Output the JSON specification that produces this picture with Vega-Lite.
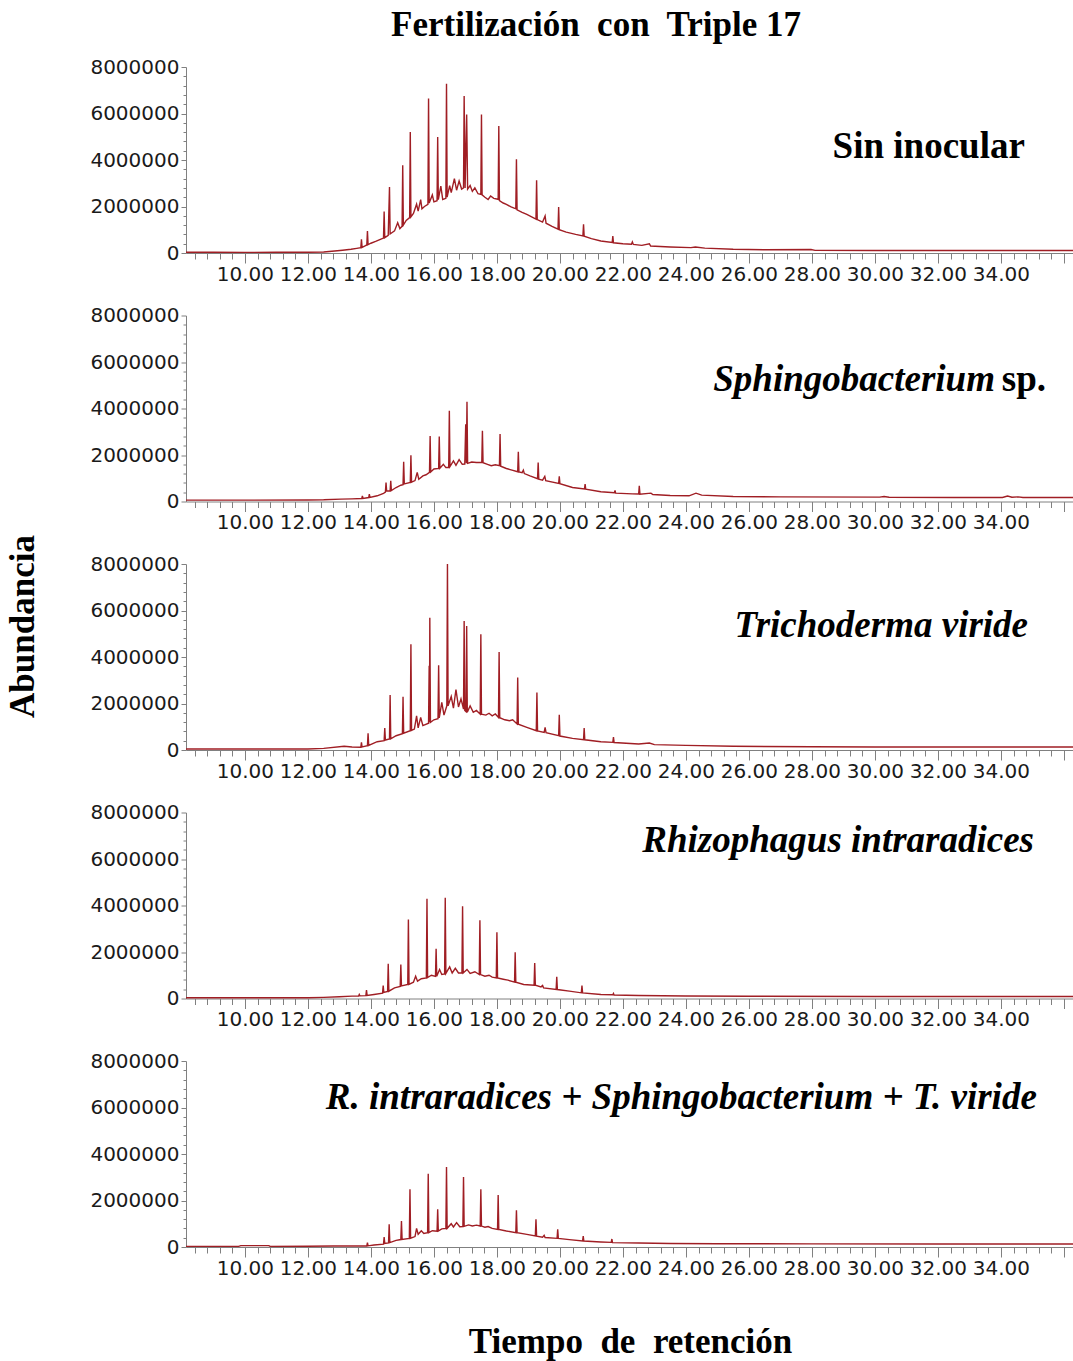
{
  "$schema": "https://vega.github.io/schema/vega-lite/v6.json",
  "background": "white",
  "padding": {"left": 5, "top": 8, "right": 0, "bottom": 5},
  "title": {
    "text": "Fertilización\u00a0 con\u00a0 Triple 17",
    "font": "Liberation Serif",
    "fontSize": 35,
    "fontWeight": "bold",
    "color": "#000000",
    "anchor": "middle",
    "frame": "group",
    "offset": 14,
    "dx": -34
  },
  "config": {
    "view": {"stroke": null},
    "axis": {
      "grid": false,
      "domainColor": "#808080",
      "tickColor": "#808080",
      "labelColor": "#1a1a1a",
      "labelFont": "DejaVu Sans",
      "labelFontSize": 20,
      "labelOverlap": false,
      "labelBound": false,
      "labelFlush": false,
      "tickCount": 100
    },
    "line": {"color": "#a01e24", "strokeWidth": 1.4, "clip": true},
    "text": {"font": "Liberation Serif", "fontSize": 37, "fontWeight": "bold", "color": "#000000", "align": "right", "baseline": "alphabetic"}
  },
  "datasets": {
    "p1": [
      {"t": 8.13, "v": 30000}, {"t": 9.0, "v": 30000}, {"t": 10.0, "v": 25000}, {"t": 11.0, "v": 30000}, {"t": 12.0, "v": 30000},
      {"t": 12.5, "v": 45000}, {"t": 12.85, "v": 86000}, {"t": 13.1, "v": 120000}, {"t": 13.37, "v": 160000}, {"t": 13.55, "v": 200000},
      {"t": 13.68, "v": 230000}, {"t": 13.7, "v": 590000}, {"t": 13.72, "v": 240000}, {"t": 13.8, "v": 300000}, {"t": 13.87, "v": 344000},
      {"t": 13.89, "v": 946000}, {"t": 13.91, "v": 360000}, {"t": 14.0, "v": 420000}, {"t": 14.15, "v": 500000}, {"t": 14.3, "v": 590000},
      {"t": 14.4, "v": 640000}, {"t": 14.42, "v": 1780000}, {"t": 14.44, "v": 660000}, {"t": 14.55, "v": 760000}, {"t": 14.59, "v": 2840000},
      {"t": 14.61, "v": 817000}, {"t": 14.75, "v": 950000}, {"t": 14.85, "v": 1300000}, {"t": 14.92, "v": 1050000}, {"t": 14.99, "v": 1150000},
      {"t": 15.01, "v": 3770000}, {"t": 15.03, "v": 1200000}, {"t": 15.12, "v": 1400000}, {"t": 15.23, "v": 1520000}, {"t": 15.25, "v": 5200000},
      {"t": 15.27, "v": 1550000}, {"t": 15.35, "v": 1700000}, {"t": 15.45, "v": 2100000}, {"t": 15.5, "v": 1800000}, {"t": 15.58, "v": 2300000},
      {"t": 15.62, "v": 1900000}, {"t": 15.7, "v": 2000000}, {"t": 15.81, "v": 2090000}, {"t": 15.83, "v": 6650000}, {"t": 15.85, "v": 2150000},
      {"t": 15.95, "v": 2500000}, {"t": 16.0, "v": 2200000}, {"t": 16.1, "v": 2250000}, {"t": 16.12, "v": 4990000}, {"t": 16.14, "v": 2300000},
      {"t": 16.22, "v": 2880000}, {"t": 16.28, "v": 2300000}, {"t": 16.38, "v": 2350000}, {"t": 16.4, "v": 7280000}, {"t": 16.42, "v": 2400000},
      {"t": 16.5, "v": 2900000}, {"t": 16.55, "v": 2600000}, {"t": 16.65, "v": 3200000}, {"t": 16.72, "v": 2700000}, {"t": 16.8, "v": 3100000},
      {"t": 16.88, "v": 2750000}, {"t": 16.94, "v": 2800000}, {"t": 16.96, "v": 6750000}, {"t": 16.99, "v": 2800000}, {"t": 17.04, "v": 5960000},
      {"t": 17.07, "v": 2750000}, {"t": 17.15, "v": 2900000}, {"t": 17.22, "v": 2650000}, {"t": 17.3, "v": 2800000}, {"t": 17.4, "v": 2550000},
      {"t": 17.49, "v": 2520000}, {"t": 17.51, "v": 5960000}, {"t": 17.53, "v": 2500000}, {"t": 17.62, "v": 2400000}, {"t": 17.72, "v": 2300000},
      {"t": 17.8, "v": 2450000}, {"t": 17.9, "v": 2350000}, {"t": 18.04, "v": 2310000}, {"t": 18.06, "v": 5460000}, {"t": 18.08, "v": 2250000},
      {"t": 18.2, "v": 2150000}, {"t": 18.3, "v": 2090000}, {"t": 18.45, "v": 1980000}, {"t": 18.6, "v": 1900000}, {"t": 18.62, "v": 4030000},
      {"t": 18.64, "v": 1860000}, {"t": 18.8, "v": 1750000}, {"t": 18.95, "v": 1660000}, {"t": 19.24, "v": 1460000}, {"t": 19.26, "v": 3130000},
      {"t": 19.28, "v": 1440000}, {"t": 19.45, "v": 1330000}, {"t": 19.53, "v": 1590000}, {"t": 19.56, "v": 1280000}, {"t": 19.75, "v": 1150000},
      {"t": 19.94, "v": 1030000}, {"t": 19.96, "v": 1980000}, {"t": 19.98, "v": 1000000}, {"t": 20.2, "v": 900000}, {"t": 20.5, "v": 800000},
      {"t": 20.73, "v": 735000}, {"t": 20.75, "v": 1230000}, {"t": 20.77, "v": 720000}, {"t": 21.0, "v": 620000}, {"t": 21.3, "v": 516000},
      {"t": 21.66, "v": 450000}, {"t": 21.68, "v": 731000}, {"t": 21.7, "v": 440000}, {"t": 22.0, "v": 400000}, {"t": 22.27, "v": 380000},
      {"t": 22.3, "v": 480000}, {"t": 22.33, "v": 370000}, {"t": 22.6, "v": 330000}, {"t": 22.84, "v": 400000}, {"t": 22.88, "v": 300000},
      {"t": 23.5, "v": 260000}, {"t": 24.16, "v": 230000}, {"t": 24.3, "v": 260000}, {"t": 24.6, "v": 210000}, {"t": 25.5, "v": 160000},
      {"t": 26.5, "v": 140000}, {"t": 27.97, "v": 150000}, {"t": 28.1, "v": 115000}, {"t": 30.0, "v": 110000}, {"t": 32.0, "v": 110000},
      {"t": 34.0, "v": 110000}, {"t": 36.32, "v": 110000}
    ],
    "p2": [
      {"t": 8.13, "v": 60000}, {"t": 10.0, "v": 60000}, {"t": 12.0, "v": 65000}, {"t": 12.5, "v": 73000}, {"t": 13.05, "v": 100000},
      {"t": 13.4, "v": 115000}, {"t": 13.71, "v": 129000}, {"t": 13.73, "v": 245000}, {"t": 13.75, "v": 135000}, {"t": 13.93, "v": 170000},
      {"t": 13.95, "v": 315000}, {"t": 13.97, "v": 180000}, {"t": 14.2, "v": 245000}, {"t": 14.4, "v": 350000}, {"t": 14.46, "v": 400000},
      {"t": 14.48, "v": 817000}, {"t": 14.5, "v": 450000}, {"t": 14.61, "v": 460000}, {"t": 14.63, "v": 890000}, {"t": 14.65, "v": 470000},
      {"t": 14.8, "v": 602000}, {"t": 14.95, "v": 700000}, {"t": 15.02, "v": 720000}, {"t": 15.04, "v": 1710000}, {"t": 15.06, "v": 760000},
      {"t": 15.25, "v": 817000}, {"t": 15.27, "v": 1990000}, {"t": 15.29, "v": 830000}, {"t": 15.4, "v": 900000}, {"t": 15.47, "v": 1250000},
      {"t": 15.52, "v": 960000}, {"t": 15.65, "v": 1100000}, {"t": 15.75, "v": 1150000}, {"t": 15.86, "v": 1250000}, {"t": 15.88, "v": 2820000},
      {"t": 15.9, "v": 1270000}, {"t": 16.0, "v": 1400000}, {"t": 16.15, "v": 1420000}, {"t": 16.17, "v": 2800000}, {"t": 16.19, "v": 1430000},
      {"t": 16.3, "v": 1600000}, {"t": 16.38, "v": 1460000}, {"t": 16.47, "v": 1470000}, {"t": 16.49, "v": 3900000}, {"t": 16.51, "v": 1500000},
      {"t": 16.62, "v": 1750000}, {"t": 16.7, "v": 1560000}, {"t": 16.8, "v": 1800000}, {"t": 16.9, "v": 1600000}, {"t": 16.98, "v": 1610000},
      {"t": 17.01, "v": 3320000}, {"t": 17.03, "v": 1650000}, {"t": 17.05, "v": 4290000}, {"t": 17.07, "v": 1640000}, {"t": 17.2, "v": 1700000},
      {"t": 17.35, "v": 1680000}, {"t": 17.52, "v": 1680000}, {"t": 17.54, "v": 3040000}, {"t": 17.56, "v": 1670000}, {"t": 17.7, "v": 1600000},
      {"t": 17.82, "v": 1540000}, {"t": 17.95, "v": 1580000}, {"t": 18.08, "v": 1540000}, {"t": 18.1, "v": 2900000}, {"t": 18.12, "v": 1520000},
      {"t": 18.3, "v": 1420000}, {"t": 18.45, "v": 1360000}, {"t": 18.66, "v": 1280000}, {"t": 18.68, "v": 2140000}, {"t": 18.7, "v": 1270000},
      {"t": 18.8, "v": 1240000}, {"t": 18.84, "v": 1350000}, {"t": 18.87, "v": 1200000}, {"t": 19.05, "v": 1100000}, {"t": 19.29, "v": 980000},
      {"t": 19.31, "v": 1680000}, {"t": 19.33, "v": 960000}, {"t": 19.45, "v": 920000}, {"t": 19.52, "v": 1080000}, {"t": 19.55, "v": 900000},
      {"t": 19.96, "v": 780000}, {"t": 19.98, "v": 1080000}, {"t": 20.0, "v": 770000}, {"t": 20.4, "v": 602000}, {"t": 20.78, "v": 540000},
      {"t": 20.8, "v": 745000}, {"t": 20.82, "v": 530000}, {"t": 21.3, "v": 417000}, {"t": 21.73, "v": 380000}, {"t": 21.75, "v": 480000},
      {"t": 21.77, "v": 360000}, {"t": 22.3, "v": 330000}, {"t": 22.5, "v": 320000}, {"t": 22.52, "v": 674000}, {"t": 22.54, "v": 315000},
      {"t": 22.89, "v": 358000}, {"t": 22.95, "v": 300000}, {"t": 23.5, "v": 260000}, {"t": 24.1, "v": 245000}, {"t": 24.32, "v": 358000},
      {"t": 24.5, "v": 272000}, {"t": 25.5, "v": 215000}, {"t": 27.0, "v": 200000}, {"t": 30.15, "v": 190000}, {"t": 30.29, "v": 215000},
      {"t": 30.45, "v": 185000}, {"t": 32.5, "v": 172000}, {"t": 34.05, "v": 175000}, {"t": 34.21, "v": 235000}, {"t": 34.35, "v": 185000},
      {"t": 34.55, "v": 200000}, {"t": 34.7, "v": 175000}, {"t": 36.32, "v": 172000}
    ],
    "p3": [
      {"t": 8.13, "v": 40000}, {"t": 10.0, "v": 40000}, {"t": 12.0, "v": 43000}, {"t": 12.5, "v": 70000}, {"t": 13.15, "v": 159000},
      {"t": 13.4, "v": 130000}, {"t": 13.68, "v": 116000}, {"t": 13.7, "v": 330000}, {"t": 13.72, "v": 130000}, {"t": 13.89, "v": 184000},
      {"t": 13.91, "v": 716000}, {"t": 13.93, "v": 200000}, {"t": 14.2, "v": 356000}, {"t": 14.42, "v": 400000}, {"t": 14.44, "v": 944000},
      {"t": 14.46, "v": 430000}, {"t": 14.59, "v": 472000}, {"t": 14.61, "v": 2370000}, {"t": 14.63, "v": 480000}, {"t": 14.8, "v": 613000},
      {"t": 15.0, "v": 700000}, {"t": 15.02, "v": 2290000}, {"t": 15.04, "v": 720000}, {"t": 15.25, "v": 828000}, {"t": 15.27, "v": 4550000},
      {"t": 15.29, "v": 840000}, {"t": 15.38, "v": 901000}, {"t": 15.45, "v": 1470000}, {"t": 15.5, "v": 950000}, {"t": 15.58, "v": 1400000},
      {"t": 15.65, "v": 1050000}, {"t": 15.83, "v": 1150000}, {"t": 15.85, "v": 3620000}, {"t": 15.86, "v": 1190000}, {"t": 15.87, "v": 5690000},
      {"t": 15.89, "v": 1190000}, {"t": 16.0, "v": 1300000}, {"t": 16.13, "v": 1350000}, {"t": 16.15, "v": 3650000}, {"t": 16.17, "v": 1380000},
      {"t": 16.25, "v": 2050000}, {"t": 16.32, "v": 1500000}, {"t": 16.41, "v": 1900000}, {"t": 16.43, "v": 8000000}, {"t": 16.45, "v": 1900000},
      {"t": 16.55, "v": 2300000}, {"t": 16.62, "v": 1800000}, {"t": 16.7, "v": 2600000}, {"t": 16.78, "v": 1850000}, {"t": 16.86, "v": 2200000},
      {"t": 16.94, "v": 1760000}, {"t": 16.96, "v": 5550000}, {"t": 16.98, "v": 1700000}, {"t": 17.02, "v": 1650000}, {"t": 17.04, "v": 5330000},
      {"t": 17.06, "v": 1620000}, {"t": 17.15, "v": 1900000}, {"t": 17.25, "v": 1620000}, {"t": 17.35, "v": 1700000}, {"t": 17.47, "v": 1540000},
      {"t": 17.49, "v": 4980000}, {"t": 17.51, "v": 1540000}, {"t": 17.65, "v": 1500000}, {"t": 17.75, "v": 1580000}, {"t": 17.85, "v": 1470000},
      {"t": 17.95, "v": 1550000}, {"t": 18.05, "v": 1400000}, {"t": 18.07, "v": 4220000}, {"t": 18.09, "v": 1390000}, {"t": 18.25, "v": 1300000},
      {"t": 18.4, "v": 1260000}, {"t": 18.5, "v": 1300000}, {"t": 18.64, "v": 1120000}, {"t": 18.66, "v": 3120000}, {"t": 18.68, "v": 1110000},
      {"t": 18.95, "v": 974000}, {"t": 19.25, "v": 830000}, {"t": 19.27, "v": 2470000}, {"t": 19.29, "v": 820000}, {"t": 19.5, "v": 760000},
      {"t": 19.53, "v": 974000}, {"t": 19.56, "v": 750000}, {"t": 19.96, "v": 614000}, {"t": 19.98, "v": 1510000}, {"t": 20.0, "v": 600000},
      {"t": 20.4, "v": 502000}, {"t": 20.75, "v": 442000}, {"t": 20.77, "v": 944000}, {"t": 20.79, "v": 440000}, {"t": 21.3, "v": 356000},
      {"t": 21.68, "v": 330000}, {"t": 21.7, "v": 560000}, {"t": 21.72, "v": 320000}, {"t": 22.5, "v": 260000}, {"t": 22.84, "v": 300000},
      {"t": 23.0, "v": 230000}, {"t": 24.0, "v": 200000}, {"t": 25.5, "v": 160000}, {"t": 28.0, "v": 140000}, {"t": 30.0, "v": 130000},
      {"t": 33.0, "v": 130000}, {"t": 36.32, "v": 130000}
    ],
    "p4": [
      {"t": 8.13, "v": 30000}, {"t": 10.0, "v": 30000}, {"t": 12.0, "v": 30000}, {"t": 12.5, "v": 50000}, {"t": 13.0, "v": 73000},
      {"t": 13.4, "v": 100000}, {"t": 13.61, "v": 110000}, {"t": 13.63, "v": 172000}, {"t": 13.65, "v": 115000}, {"t": 13.84, "v": 125000},
      {"t": 13.86, "v": 357000}, {"t": 13.88, "v": 129000}, {"t": 14.1, "v": 172000}, {"t": 14.37, "v": 230000}, {"t": 14.39, "v": 559000},
      {"t": 14.41, "v": 260000}, {"t": 14.53, "v": 300000}, {"t": 14.55, "v": 1490000}, {"t": 14.57, "v": 315000}, {"t": 14.75, "v": 459000},
      {"t": 14.93, "v": 520000}, {"t": 14.95, "v": 1460000}, {"t": 14.97, "v": 540000}, {"t": 15.17, "v": 602000}, {"t": 15.19, "v": 3400000},
      {"t": 15.21, "v": 610000}, {"t": 15.35, "v": 700000}, {"t": 15.42, "v": 960000}, {"t": 15.48, "v": 745000}, {"t": 15.6, "v": 850000},
      {"t": 15.76, "v": 889000}, {"t": 15.78, "v": 4290000}, {"t": 15.8, "v": 900000}, {"t": 15.92, "v": 1000000}, {"t": 16.05, "v": 950000},
      {"t": 16.07, "v": 2140000}, {"t": 16.09, "v": 960000}, {"t": 16.18, "v": 1250000}, {"t": 16.25, "v": 1030000}, {"t": 16.34, "v": 1060000},
      {"t": 16.36, "v": 4330000}, {"t": 16.38, "v": 1080000}, {"t": 16.5, "v": 1360000}, {"t": 16.58, "v": 1100000}, {"t": 16.68, "v": 1300000},
      {"t": 16.78, "v": 1100000}, {"t": 16.89, "v": 1100000}, {"t": 16.91, "v": 3970000}, {"t": 16.93, "v": 1100000}, {"t": 17.05, "v": 1250000},
      {"t": 17.15, "v": 1080000}, {"t": 17.3, "v": 1150000}, {"t": 17.44, "v": 1030000}, {"t": 17.46, "v": 3370000}, {"t": 17.48, "v": 1030000},
      {"t": 17.62, "v": 960000}, {"t": 17.75, "v": 1000000}, {"t": 17.85, "v": 920000}, {"t": 17.98, "v": 889000}, {"t": 18.0, "v": 2850000},
      {"t": 18.02, "v": 880000}, {"t": 18.2, "v": 830000}, {"t": 18.35, "v": 789000}, {"t": 18.56, "v": 703000}, {"t": 18.58, "v": 1990000},
      {"t": 18.6, "v": 700000}, {"t": 18.85, "v": 602000}, {"t": 19.18, "v": 574000}, {"t": 19.2, "v": 1530000}, {"t": 19.22, "v": 570000},
      {"t": 19.4, "v": 500000}, {"t": 19.45, "v": 560000}, {"t": 19.48, "v": 459000}, {"t": 19.88, "v": 387000}, {"t": 19.9, "v": 932000},
      {"t": 19.92, "v": 385000}, {"t": 20.3, "v": 315000}, {"t": 20.68, "v": 244000}, {"t": 20.7, "v": 559000}, {"t": 20.72, "v": 244000},
      {"t": 21.3, "v": 172000}, {"t": 21.68, "v": 160000}, {"t": 21.7, "v": 215000}, {"t": 21.72, "v": 150000}, {"t": 22.5, "v": 130000},
      {"t": 24.0, "v": 110000}, {"t": 26.0, "v": 95000}, {"t": 30.0, "v": 86000}, {"t": 36.32, "v": 86000}
    ],
    "p5": [
      {"t": 8.13, "v": 25000}, {"t": 9.8, "v": 25000}, {"t": 9.87, "v": 60000}, {"t": 10.5, "v": 60000}, {"t": 10.76, "v": 60000},
      {"t": 10.8, "v": 25000}, {"t": 12.0, "v": 30000}, {"t": 12.8, "v": 40000}, {"t": 13.5, "v": 45000}, {"t": 13.87, "v": 43000},
      {"t": 13.89, "v": 185000}, {"t": 13.91, "v": 50000}, {"t": 14.1, "v": 86000}, {"t": 14.4, "v": 120000}, {"t": 14.42, "v": 430000},
      {"t": 14.44, "v": 150000}, {"t": 14.56, "v": 180000}, {"t": 14.58, "v": 975000}, {"t": 14.6, "v": 190000}, {"t": 14.8, "v": 287000},
      {"t": 14.95, "v": 320000}, {"t": 14.97, "v": 1120000}, {"t": 14.99, "v": 330000}, {"t": 15.22, "v": 373000}, {"t": 15.24, "v": 2480000},
      {"t": 15.26, "v": 380000}, {"t": 15.4, "v": 450000}, {"t": 15.45, "v": 803000}, {"t": 15.5, "v": 545000}, {"t": 15.6, "v": 700000},
      {"t": 15.68, "v": 580000}, {"t": 15.8, "v": 617000}, {"t": 15.82, "v": 3150000}, {"t": 15.84, "v": 620000}, {"t": 15.95, "v": 700000},
      {"t": 16.1, "v": 680000}, {"t": 16.12, "v": 1620000}, {"t": 16.14, "v": 688000}, {"t": 16.25, "v": 780000}, {"t": 16.38, "v": 800000},
      {"t": 16.4, "v": 3440000}, {"t": 16.42, "v": 803000}, {"t": 16.55, "v": 1000000}, {"t": 16.62, "v": 860000}, {"t": 16.72, "v": 1050000},
      {"t": 16.82, "v": 870000}, {"t": 16.92, "v": 880000}, {"t": 16.94, "v": 3010000}, {"t": 16.96, "v": 890000}, {"t": 17.1, "v": 950000},
      {"t": 17.22, "v": 903000}, {"t": 17.35, "v": 940000}, {"t": 17.47, "v": 903000}, {"t": 17.49, "v": 2480000}, {"t": 17.51, "v": 900000},
      {"t": 17.62, "v": 850000}, {"t": 17.72, "v": 880000}, {"t": 17.85, "v": 803000}, {"t": 18.02, "v": 760000}, {"t": 18.04, "v": 2240000},
      {"t": 18.06, "v": 755000}, {"t": 18.3, "v": 688000}, {"t": 18.6, "v": 617000}, {"t": 18.62, "v": 1580000}, {"t": 18.64, "v": 615000},
      {"t": 18.95, "v": 545000}, {"t": 19.22, "v": 473000}, {"t": 19.24, "v": 1190000}, {"t": 19.26, "v": 470000}, {"t": 19.45, "v": 420000},
      {"t": 19.5, "v": 500000}, {"t": 19.53, "v": 410000}, {"t": 19.91, "v": 373000}, {"t": 19.93, "v": 760000}, {"t": 19.95, "v": 370000},
      {"t": 20.3, "v": 315000}, {"t": 20.72, "v": 258000}, {"t": 20.74, "v": 473000}, {"t": 20.76, "v": 255000}, {"t": 21.3, "v": 215000},
      {"t": 21.63, "v": 200000}, {"t": 21.65, "v": 344000}, {"t": 21.67, "v": 190000}, {"t": 22.5, "v": 170000}, {"t": 23.5, "v": 150000},
      {"t": 25.0, "v": 140000}, {"t": 28.0, "v": 135000}, {"t": 32.0, "v": 130000}, {"t": 36.32, "v": 130000}
    ]
  },
  "bounds": "flush",
  "spacing": 62.5,
  "vconcat": [
    {
      "width": 888,
      "height": 186,
      "layer": [
        {
          "data": {"name": "p1"},
          "mark": {"type": "line"},
          "encoding": {
            "x": {"field": "t", "type": "quantitative", "scale": {"domain": [8.13, 36.32], "nice": false, "zero": false},
              "axis": {"title": null, "labelPadding": 1,
                "values": [8.4, 8.8, 9.2, 9.6, 10, 10.4, 10.8, 11.2, 11.6, 12, 12.4, 12.8, 13.2, 13.6, 14, 14.4, 14.8, 15.2, 15.6, 16, 16.4, 16.8, 17.2, 17.6, 18, 18.4, 18.8, 19.2, 19.6, 20, 20.4, 20.8, 21.2, 21.6, 22, 22.4, 22.8, 23.2, 23.6, 24, 24.4, 24.8, 25.2, 25.6, 26, 26.4, 26.8, 27.2, 27.6, 28, 28.4, 28.8, 29.2, 29.6, 30, 30.4, 30.8, 31.2, 31.6, 32, 32.4, 32.8, 33.2, 33.6, 34, 34.4, 34.8, 35.2, 35.6, 36],
                "labelExpr": "datum.value < 35 && abs(datum.value - 2 * round(datum.value / 2)) < 0.001 ? format(datum.value, '.2f') : ''",
                "tickSize": {"condition": {"test": "abs(datum.value - 2 * round(datum.value / 2)) < 0.001", "value": 10}, "value": 6}}},
            "y": {"field": "v", "type": "quantitative", "scale": {"domain": [0, 8000000], "nice": false},
              "axis": {"title": null, "labelPadding": 2,
                "values": [0, 400000, 800000, 1200000, 1600000, 2000000, 2400000, 2800000, 3200000, 3600000, 4000000, 4400000, 4800000, 5200000, 5600000, 6000000, 6400000, 6800000, 7200000, 7600000, 8000000],
                "labelExpr": "datum.value % 2000000 == 0 ? format(datum.value, 'd') : ''",
                "tickSize": {"condition": {"test": "datum.value % 2000000 == 0", "value": 5}, "value": 3}}}
          }
        },
        {
          "data": {"values": [{"label": "Sin inocular"}]},
          "mark": {"type": "text"},
          "encoding": {"x": {"datum": 34.76}, "y": {"datum": 4100000}, "text": {"field": "label"}}
        }
      ]
    },
    {
      "width": 888,
      "height": 186,
      "layer": [
        {
          "data": {"name": "p2"},
          "mark": {"type": "line"},
          "encoding": {
            "x": {"field": "t", "type": "quantitative", "scale": {"domain": [8.13, 36.32], "nice": false, "zero": false},
              "axis": {"title": null, "labelPadding": 1,
                "values": [8.4, 8.8, 9.2, 9.6, 10, 10.4, 10.8, 11.2, 11.6, 12, 12.4, 12.8, 13.2, 13.6, 14, 14.4, 14.8, 15.2, 15.6, 16, 16.4, 16.8, 17.2, 17.6, 18, 18.4, 18.8, 19.2, 19.6, 20, 20.4, 20.8, 21.2, 21.6, 22, 22.4, 22.8, 23.2, 23.6, 24, 24.4, 24.8, 25.2, 25.6, 26, 26.4, 26.8, 27.2, 27.6, 28, 28.4, 28.8, 29.2, 29.6, 30, 30.4, 30.8, 31.2, 31.6, 32, 32.4, 32.8, 33.2, 33.6, 34, 34.4, 34.8, 35.2, 35.6, 36],
                "labelExpr": "datum.value < 35 && abs(datum.value - 2 * round(datum.value / 2)) < 0.001 ? format(datum.value, '.2f') : ''",
                "tickSize": {"condition": {"test": "abs(datum.value - 2 * round(datum.value / 2)) < 0.001", "value": 10}, "value": 6}}},
            "y": {"field": "v", "type": "quantitative", "scale": {"domain": [0, 8000000], "nice": false},
              "axis": {"title": null, "labelPadding": 2,
                "values": [0, 400000, 800000, 1200000, 1600000, 2000000, 2400000, 2800000, 3200000, 3600000, 4000000, 4400000, 4800000, 5200000, 5600000, 6000000, 6400000, 6800000, 7200000, 7600000, 8000000],
                "labelExpr": "datum.value % 2000000 == 0 ? format(datum.value, 'd') : ''",
                "tickSize": {"condition": {"test": "datum.value % 2000000 == 0", "value": 5}, "value": 3}}}
          }
        },
        {
          "data": {"values": [{"label": "Sphingobacterium"}]},
          "mark": {"type": "text", "fontStyle": "italic"},
          "encoding": {"x": {"datum": 33.81}, "y": {"datum": 4770000}, "text": {"field": "label"}}
        },
        {
          "data": {"values": [{"label": "sp."}]},
          "mark": {"type": "text"},
          "encoding": {"x": {"datum": 35.43}, "y": {"datum": 4770000}, "text": {"field": "label"}}
        }
      ]
    },
    {
      "width": 888,
      "height": 186,
      "layer": [
        {
          "data": {"name": "p3"},
          "mark": {"type": "line"},
          "encoding": {
            "x": {"field": "t", "type": "quantitative", "scale": {"domain": [8.13, 36.32], "nice": false, "zero": false},
              "axis": {"title": null, "labelPadding": 1,
                "values": [8.4, 8.8, 9.2, 9.6, 10, 10.4, 10.8, 11.2, 11.6, 12, 12.4, 12.8, 13.2, 13.6, 14, 14.4, 14.8, 15.2, 15.6, 16, 16.4, 16.8, 17.2, 17.6, 18, 18.4, 18.8, 19.2, 19.6, 20, 20.4, 20.8, 21.2, 21.6, 22, 22.4, 22.8, 23.2, 23.6, 24, 24.4, 24.8, 25.2, 25.6, 26, 26.4, 26.8, 27.2, 27.6, 28, 28.4, 28.8, 29.2, 29.6, 30, 30.4, 30.8, 31.2, 31.6, 32, 32.4, 32.8, 33.2, 33.6, 34, 34.4, 34.8, 35.2, 35.6, 36],
                "labelExpr": "datum.value < 35 && abs(datum.value - 2 * round(datum.value / 2)) < 0.001 ? format(datum.value, '.2f') : ''",
                "tickSize": {"condition": {"test": "abs(datum.value - 2 * round(datum.value / 2)) < 0.001", "value": 10}, "value": 6}}},
            "y": {"field": "v", "type": "quantitative", "scale": {"domain": [0, 8000000], "nice": false},
              "axis": {"labelPadding": 2,
                "title": "Abundancia", "titleFont": "Liberation Serif", "titleFontSize": 35, "titleFontWeight": "bold", "titleColor": "#000000",
                "titlePadding": 49, "titleY": 62,
                "values": [0, 400000, 800000, 1200000, 1600000, 2000000, 2400000, 2800000, 3200000, 3600000, 4000000, 4400000, 4800000, 5200000, 5600000, 6000000, 6400000, 6800000, 7200000, 7600000, 8000000],
                "labelExpr": "datum.value % 2000000 == 0 ? format(datum.value, 'd') : ''",
                "tickSize": {"condition": {"test": "datum.value % 2000000 == 0", "value": 5}, "value": 3}}}
          }
        },
        {
          "data": {"values": [{"label": "Trichoderma viride"}]},
          "mark": {"type": "text", "fontStyle": "italic"},
          "encoding": {"x": {"datum": 34.86}, "y": {"datum": 4850000}, "text": {"field": "label"}}
        }
      ]
    },
    {
      "width": 888,
      "height": 186,
      "layer": [
        {
          "data": {"name": "p4"},
          "mark": {"type": "line"},
          "encoding": {
            "x": {"field": "t", "type": "quantitative", "scale": {"domain": [8.13, 36.32], "nice": false, "zero": false},
              "axis": {"title": null, "labelPadding": 1,
                "values": [8.4, 8.8, 9.2, 9.6, 10, 10.4, 10.8, 11.2, 11.6, 12, 12.4, 12.8, 13.2, 13.6, 14, 14.4, 14.8, 15.2, 15.6, 16, 16.4, 16.8, 17.2, 17.6, 18, 18.4, 18.8, 19.2, 19.6, 20, 20.4, 20.8, 21.2, 21.6, 22, 22.4, 22.8, 23.2, 23.6, 24, 24.4, 24.8, 25.2, 25.6, 26, 26.4, 26.8, 27.2, 27.6, 28, 28.4, 28.8, 29.2, 29.6, 30, 30.4, 30.8, 31.2, 31.6, 32, 32.4, 32.8, 33.2, 33.6, 34, 34.4, 34.8, 35.2, 35.6, 36],
                "labelExpr": "datum.value < 35 && abs(datum.value - 2 * round(datum.value / 2)) < 0.001 ? format(datum.value, '.2f') : ''",
                "tickSize": {"condition": {"test": "abs(datum.value - 2 * round(datum.value / 2)) < 0.001", "value": 10}, "value": 6}}},
            "y": {"field": "v", "type": "quantitative", "scale": {"domain": [0, 8000000], "nice": false},
              "axis": {"title": null, "labelPadding": 2,
                "values": [0, 400000, 800000, 1200000, 1600000, 2000000, 2400000, 2800000, 3200000, 3600000, 4000000, 4400000, 4800000, 5200000, 5600000, 6000000, 6400000, 6800000, 7200000, 7600000, 8000000],
                "labelExpr": "datum.value % 2000000 == 0 ? format(datum.value, 'd') : ''",
                "tickSize": {"condition": {"test": "datum.value % 2000000 == 0", "value": 5}, "value": 3}}}
          }
        },
        {
          "data": {"values": [{"label": "Rhizophagus intraradices"}]},
          "mark": {"type": "text", "fontStyle": "italic"},
          "encoding": {"x": {"datum": 35.05}, "y": {"datum": 6280000}, "text": {"field": "label"}}
        }
      ]
    },
    {
      "width": 888,
      "height": 186,
      "layer": [
        {
          "data": {"name": "p5"},
          "mark": {"type": "line"},
          "encoding": {
            "x": {"field": "t", "type": "quantitative", "scale": {"domain": [8.13, 36.32], "nice": false, "zero": false},
              "axis": {"labelPadding": 1,
                "title": "Tiempo\u00a0 de\u00a0 retención", "titleFont": "Liberation Serif", "titleFontSize": 35, "titleFontWeight": "bold", "titleColor": "#000000",
                "titlePadding": 46,
                "values": [8.4, 8.8, 9.2, 9.6, 10, 10.4, 10.8, 11.2, 11.6, 12, 12.4, 12.8, 13.2, 13.6, 14, 14.4, 14.8, 15.2, 15.6, 16, 16.4, 16.8, 17.2, 17.6, 18, 18.4, 18.8, 19.2, 19.6, 20, 20.4, 20.8, 21.2, 21.6, 22, 22.4, 22.8, 23.2, 23.6, 24, 24.4, 24.8, 25.2, 25.6, 26, 26.4, 26.8, 27.2, 27.6, 28, 28.4, 28.8, 29.2, 29.6, 30, 30.4, 30.8, 31.2, 31.6, 32, 32.4, 32.8, 33.2, 33.6, 34, 34.4, 34.8, 35.2, 35.6, 36],
                "labelExpr": "datum.value < 35 && abs(datum.value - 2 * round(datum.value / 2)) < 0.001 ? format(datum.value, '.2f') : ''",
                "tickSize": {"condition": {"test": "abs(datum.value - 2 * round(datum.value / 2)) < 0.001", "value": 10}, "value": 6}}},
            "y": {"field": "v", "type": "quantitative", "scale": {"domain": [0, 8000000], "nice": false},
              "axis": {"title": null, "labelPadding": 2,
                "values": [0, 400000, 800000, 1200000, 1600000, 2000000, 2400000, 2800000, 3200000, 3600000, 4000000, 4400000, 4800000, 5200000, 5600000, 6000000, 6400000, 6800000, 7200000, 7600000, 8000000],
                "labelExpr": "datum.value % 2000000 == 0 ? format(datum.value, 'd') : ''",
                "tickSize": {"condition": {"test": "datum.value % 2000000 == 0", "value": 5}, "value": 3}}}
          }
        },
        {
          "data": {"values": [{"label": "R. intraradices + Sphingobacterium + T. viride"}]},
          "mark": {"type": "text", "fontStyle": "italic"},
          "encoding": {"x": {"datum": 35.14}, "y": {"datum": 5940000}, "text": {"field": "label"}}
        }
      ]
    }
  ]
}
